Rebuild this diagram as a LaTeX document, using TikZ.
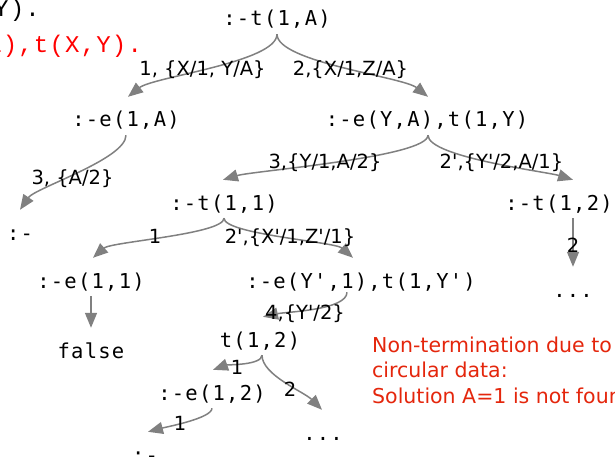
\documentclass[tikz,border=0pt]{standalone}
\usepackage{fontspec}
\setmainfont[Ligatures=TeXOff]{DejaVu Sans}
\newfontfamily\codefont[LetterSpace=6,Ligatures=TeXOff]{DejaVu Sans Mono}
\newfontfamily\courfont[LetterSpace=5,Ligatures=TeXOff]{Liberation Mono}
\usetikzlibrary{arrows.meta,calc}
\definecolor{edgegray}{RGB}{128,128,128}
\definecolor{notered}{RGB}{228,38,12}
\definecolor{codered}{RGB}{255,0,0}
\begin{document}
\begin{tikzpicture}[x=1pt,y=1pt,
  goal/.style={inner xsep=0pt, inner ysep=4pt, text height=26pt, text depth=4pt, anchor=base,
               font=\codefont\fontsize{20.5}{24}\selectfont},
  lab/.style={inner sep=0pt, anchor=base, font=\fontsize{19.5}{23}\selectfont},
  edge/.style={draw=edgegray, line width=1.5pt, -{Triangle[length=15pt,width=12pt]}},
  clause/.style={inner sep=0pt, anchor=base west, font=\courfont\fontsize{24}{26}\selectfont},
  note/.style={inner sep=0pt, anchor=base west, align=left, text=notered,
               font=\fontsize{20.5}{25.5}\selectfont},
]
\useasboundingbox (0,0) rectangle (615,-457);
\clip (0,0) rectangle (615,-457);

% program clauses (cut at the left edge)
\node[clause] (c1) at (-6,-17) {Y).};
\node[clause, text=codered] (c2) at (-13,-53) {Z),t(X,Y).};

% goals
\node[goal] (n0)  at (277,-26)  {:-t(1,A)};
\node[goal] (n1)  at (126,-127) {:-e(1,A)};
\node[goal] (n2)  at (427,-127) {:-e(Y,A),t(1,Y)};
\node[goal] (n3)  at (20,-240)  {:-};
\node[goal] (n4)  at (224,-210) {:-t(1,1)};
\node[goal] (n5)  at (559,-210) {:-t(1,2)};
\node[goal] (n6)  at (91,-288)  {:-e(1,1)};
\node[goal] (n7)  at (361,-288) {:-e(Y',1),t(1,Y')};
\node[goal] (n8)  at (91,-358)  {false};
\node[goal] (n9)  at (573,-297) {...};
\node[goal] (n10) at (260,-347) {t(1,2)};
\node[goal] (n11) at (212,-400) {:-e(1,2)};
\node[goal] (n12) at (323,-440) {...};
\node[goal] (n13) at (145,-462) {:-};

% edges
\draw[edge] (n0.south) .. controls +(0,-28) and +(25,20) .. ($(n1.north)+(2,0)$);
\draw[edge] (n0.south) .. controls +(0,-28) and +(-25,20) .. ($(n2.north)+(1,0)$);
\draw[edge] (n1.south) .. controls +(0,-24) and +(15,22) .. (n3.north);
\draw[edge] ($(n2.south)+(1,0)$) .. controls +(0,-22) and +(30,9) .. ($(n4.north)+(-1,0)$);
\draw[edge] ($(n2.south)+(1,0)$) .. controls +(0,-22) and +(-26,8) .. ($(n5.north)+(14,0)$);
\draw[edge] ($(n5.south)+(14,0)$) -- (n9.north);
\draw[edge] (n4.south) .. controls +(0,-16) and +(18,16) .. ($(n6.north)+(2,0)$);
\draw[edge] (n4.south) .. controls +(0,-16) and +(-18,16) .. ($(n7.north)+(-8,0)$);
\draw[edge] (n6.south) -- (n8.north);
\draw[edge] ($(n7.south)+(-14,4)$) .. controls +(0,-18) and +(23,5) .. ($(n10.north)+(3,0)$);
\draw[edge] ($(n10.south)+(2,0)$) .. controls +(0,-10) and +(14,5) .. ($(n11.north)+(1,0)$);
\draw[edge] ($(n10.south)+(2,0)$) .. controls +(0,-20) and +(-18,18) .. ($(n12.north)+(-1,0)$);
\draw[edge] (n11.south) .. controls +(0,-10) and +(19,5) .. ($(n13.north)+(3,0)$);

% edge labels
\node[lab] (l1)  at (202.5,-76) {1, \{X/1, Y/A\}};
\node[lab] (l2)  at (350.5,-76) {2,\{X/1,Z/A\}};
\node[lab] (l3)  at (72.5,-185) {3, \{A/2\}};
\node[lab] (l4)  at (325,-168)  {3,\{Y/1,A/2\}};
\node[lab] (l5)  at (501.5,-168) {2',\{Y'/2,A/1\}};
\node[lab] (l6)  at (573,-252)  {2};
\node[lab] (l7)  at (155,-243)  {1};
\node[lab] (l8)  at (290,-243)  {2',\{X'/1,Z'/1\}};
\node[lab] (l9)  at (305,-319)  {4,\{Y'/2\}};
\node[lab] (l10) at (237,-374)  {1};
\node[lab] (l11) at (290,-396)  {2};
\node[lab] (l12) at (180,-430)  {1};

% note (anchored at the baseline of its last line)
\node[note] (note) at (372,-403) {Non-termination due to\\circular data:\\Solution A=1 is not found};
\end{tikzpicture}
\end{document}
